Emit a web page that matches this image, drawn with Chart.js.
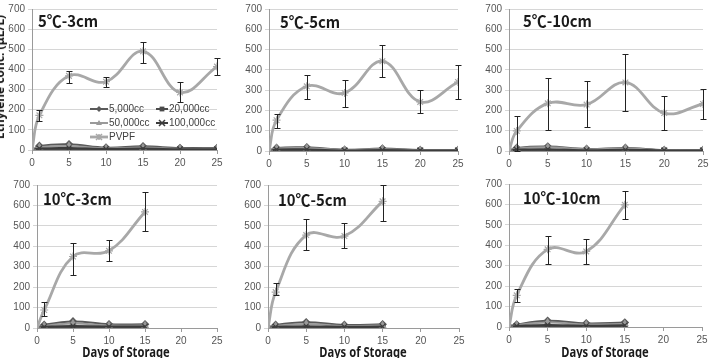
<!DOCTYPE html>
<html><head><meta charset="utf-8">
<script src="https://cdn.jsdelivr.net/npm/chart.js"></script>
<style>
html,body{margin:0;padding:0;background:#fff;width:712px;height:358px;overflow:hidden;position:relative;font-family:"Noto Sans CJK JP","Noto Sans",sans-serif}
canvas{position:absolute}
.ttl{position:absolute;font-weight:bold;font-size:16px;color:#1a1a1a;white-space:nowrap;line-height:1;transform-origin:0 0;transform:scaleX(0.93)}
.xt{position:absolute;font-family:"Noto Sans",sans-serif;font-weight:bold;font-size:14px;color:#1a1a1a;white-space:nowrap;line-height:1;transform:translateX(-50%) scaleX(0.8)}
.yt{position:absolute;font-family:"Noto Sans",sans-serif;font-weight:bold;font-size:12px;color:#1a1a1a;white-space:nowrap;line-height:1;transform:translate(-50%,-50%) rotate(-90deg)}
</style>
</head><body>
<canvas id="p1" width="230" height="175" style="left:0;top:0"></canvas>
<canvas id="p2" width="240" height="175" style="left:230px;top:0"></canvas>
<canvas id="p3" width="242" height="175" style="left:470px;top:0"></canvas>
<canvas id="p4" width="230" height="183" style="left:0;top:175px"></canvas>
<canvas id="p5" width="240" height="183" style="left:230px;top:175px"></canvas>
<canvas id="p6" width="242" height="183" style="left:470px;top:175px"></canvas>
<div class="ttl" style="left:38px;top:12px">5℃-3cm</div>
<div class="ttl" style="left:280px;top:13px">5℃-5cm</div>
<div class="ttl" style="left:523px;top:12px">5℃-10cm</div>
<div class="ttl" style="left:43px;top:190px">10℃-3cm</div>
<div class="ttl" style="left:278px;top:191px">10℃-5cm</div>
<div class="ttl" style="left:523px;top:189px">10℃-10cm</div>
<div class="xt" style="left:126px;top:345px">Days of Storage</div>
<div class="xt" style="left:363px;top:345px">Days of Storage</div>
<div class="xt" style="left:605px;top:345px">Days of Storage</div>
<div class="yt" style="left:0px;top:77px">Ethylene conc. (μL/L)</div>
<script>
// ---- data ----
const seriesNames = ['5,000cc', '20,000cc', '50,000cc', '100,000cc', 'PVPF'];
const daysLong = [0, 1, 5, 10, 15, 20, 25];
const daysShort = [0, 1, 5, 10, 15];
const xTickValues = [0, 5, 10, 15, 20, 25];
const yTickValues = [0, 100, 200, 300, 400, 500, 600, 700];

// 5℃-3cm
const c5cm3_5k   = [0, 20, 28, 12, 18, 10, 10];
const c5cm3_20k  = [0, 4, 4, 2, 3, 2, 2];
const c5cm3_50k  = [0, 14, 20, 8, 12, 6, 6];
const c5cm3_100k = [0, 8, 10, 5, 7, 4, 4];
const c5cm3_pvpf = [0, 172, 368, 339, 490, 286, 414];
const c5cm3_low  = [null, 145, 335, 314, 430, 237, 373];
const c5cm3_high = [null, 200, 393, 360, 537, 339, 455];

// 5℃-5cm
const c5cm5_5k   = [0, 15, 18, 6, 12, 5, 5];
const c5cm5_20k  = [0, 3, 3, 2, 2, 2, 2];
const c5cm5_50k  = [0, 12, 14, 5, 9, 4, 4];
const c5cm5_100k = [0, 7, 8, 3, 5, 3, 3];
const c5cm5_pvpf = [0, 152, 319, 286, 443, 242, 340];
const c5cm5_low  = [null, 111, 255, 218, 365, 185, 255];
const c5cm5_high = [null, 182, 373, 352, 524, 300, 425];

// 5℃-10cm
const c5cm10_5k   = [0, 15, 22, 10, 15, 5, 5];
const c5cm10_20k  = [0, 3, 3, 2, 2, 2, 2];
const c5cm10_50k  = [0, 12, 18, 8, 12, 4, 4];
const c5cm10_100k = [0, 7, 9, 4, 6, 3, 3];
const c5cm10_pvpf = [0, 99, 235, 229, 338, 187, 232];
const c5cm10_low  = [null, 0, 102, 118, 196, 102, 156];
const c5cm10_high = [null, 172, 362, 346, 479, 273, 305];

// 10℃-3cm
const c10cm3_5k   = [0, 15, 32, 18, 18];
const c10cm3_20k  = [0, 3, 4, 3, 3];
const c10cm3_50k  = [0, 10, 22, 12, 12];
const c10cm3_100k = [0, 6, 10, 7, 7];
const c10cm3_pvpf = [0, 88, 350, 378, 568];
const c10cm3_low  = [null, 60, 258, 328, 475];
const c10cm3_high = [null, 125, 415, 432, 665];

// 10℃-5cm
const c10cm5_5k   = [0, 15, 28, 15, 18];
const c10cm5_20k  = [0, 3, 4, 3, 3];
const c10cm5_50k  = [0, 10, 20, 10, 12];
const c10cm5_100k = [0, 6, 9, 6, 7];
const c10cm5_pvpf = [0, 176, 455, 450, 620];
const c10cm5_low  = [null, 160, 383, 390, 524];
const c10cm5_high = [null, 220, 532, 516, 700];

// 10℃-10cm
const c10cm10_5k   = [0, 12, 30, 18, 22];
const c10cm10_20k  = [0, 3, 4, 3, 3];
const c10cm10_50k  = [0, 9, 22, 12, 15];
const c10cm10_100k = [0, 5, 10, 6, 8];
const c10cm10_pvpf = [0, 155, 380, 370, 598];
const c10cm10_low  = [null, 122, 310, 310, 529];
const c10cm10_high = [null, 187, 445, 432, 668];

// ---- styles ----
const seriesColors = ['#5a5a5a', '#4a4a4a', '#9a9a9a', '#3c3c3c', '#a8a8a8'];
const seriesMarkers = ['rectRot', 'rect', 'triangle', 'crossRot', 'star'];
const seriesWidths = [2, 2, 2, 2, 2.8];

const errorBarPlugin = {
  id: 'errbars',
  afterDatasetsDraw(chart) {
    const ctx = chart.ctx, xs = chart.scales.x, ys = chart.scales.y;
    chart.data.datasets.forEach(ds => {
      if (!ds.errLow) return;
      ctx.save();
      ctx.strokeStyle = '#222';
      ctx.lineWidth = 1;
      ds.data.forEach((p, i) => {
        const lo = ds.errLow[i], hi = ds.errHigh[i];
        if (lo == null) return;
        const x = Math.round(xs.getPixelForValue(p.x)) + 0.5;
        const y1 = Math.round(ys.getPixelForValue(lo)) + 0.5;
        const y2 = Math.round(ys.getPixelForValue(hi)) + 0.5;
        ctx.beginPath();
        ctx.moveTo(x, y1); ctx.lineTo(x, y2);
        ctx.moveTo(x - 3, y1); ctx.lineTo(x + 3, y1);
        ctx.moveTo(x - 3, y2); ctx.lineTo(x + 3, y2);
        ctx.stroke();
      });
      ctx.restore();
    });
  }
};

function drawMarker(ctx, style, x, y, r, color) {
  ctx.save();
  ctx.fillStyle = color; ctx.strokeStyle = color; ctx.lineWidth = 1.5;
  ctx.beginPath();
  if (style === 'rectRot') {
    ctx.moveTo(x, y - r); ctx.lineTo(x + r, y); ctx.lineTo(x, y + r); ctx.lineTo(x - r, y); ctx.closePath(); ctx.fill();
  } else if (style === 'rect') {
    ctx.rect(x - r * 0.8, y - r * 0.8, r * 1.6, r * 1.6); ctx.fill();
  } else if (style === 'triangle') {
    ctx.moveTo(x, y - r); ctx.lineTo(x + r, y + r * 0.7); ctx.lineTo(x - r, y + r * 0.7); ctx.closePath(); ctx.fill();
  } else if (style === 'crossRot') {
    ctx.moveTo(x - r, y - r); ctx.lineTo(x + r, y + r); ctx.moveTo(x + r, y - r); ctx.lineTo(x - r, y + r); ctx.stroke();
  } else {
    ctx.moveTo(x - r, y - r); ctx.lineTo(x + r, y + r); ctx.moveTo(x + r, y - r); ctx.lineTo(x - r, y + r);
    ctx.moveTo(x, y - r); ctx.lineTo(x, y + r); ctx.stroke();
  }
  ctx.restore();
}

const legendPlugin = {
  id: 'inlegend',
  afterDraw(chart) {
    if (!chart.options.plugins.inlegend || !chart.options.plugins.inlegend.show) return;
    const ctx = chart.ctx;
    const spots = [[90, 109], [156, 109], [90, 123], [156, 123], [90, 137]];
    const sampleW = [18, 12, 18, 12, 18];
    ctx.save();
    ctx.font = '10px "Liberation Sans", Arial, sans-serif';
    ctx.textBaseline = 'middle';
    chart.data.datasets.forEach((ds, i) => {
      const [x, y] = spots[i];
      const w = sampleW[i];
      ctx.strokeStyle = ds.borderColor;
      ctx.lineWidth = ds.borderWidth;
      ctx.beginPath(); ctx.moveTo(x, y); ctx.lineTo(x + w, y); ctx.stroke();
      drawMarker(ctx, ds.pointStyle, x + w / 2, y, 3, ds.borderColor);
      ctx.fillStyle = '#404040';
      ctx.fillText(ds.label, x + w + 1, y);
    });
    ctx.restore();
  }
};

function pts(days, vals) { return days.map((d, i) => ({ x: d, y: vals[i] })); }

function makePanel(id, days, lows, pvpf, errLow, errHigh, fit, showLegend) {
  const vals = lows.concat([pvpf]);
  const datasets = vals.map((v, i) => ({
    label: seriesNames[i],
    data: pts(days, v),
    borderColor: seriesColors[i],
    backgroundColor: seriesColors[i],
    borderWidth: seriesWidths[i],
    pointStyle: seriesMarkers[i],
    pointRadius: i === 4 ? 4 : 3.5,
    pointBorderWidth: 1.2,
    tension: 0.4,
    errLow: i === 4 ? errLow : null,
    errHigh: i === 4 ? errHigh : null,
    order: 4 - i
  }));
  return new Chart(document.getElementById(id), {
    type: 'line',
    data: { datasets },
    options: {
      responsive: false, animation: false, devicePixelRatio: 1,
      layout: { padding: { left: 0, top: fit.top, right: fit.right, bottom: 0 } },
      plugins: { legend: { display: false }, tooltip: { enabled: false }, inlegend: { show: showLegend } },
      scales: {
        x: {
          type: 'linear', min: 0, max: 25,
          afterBuildTicks: s => { s.ticks = xTickValues.map(v => ({ value: v })); },
          afterFit: s => { s.height = fit.bottom; },
          grid: { drawOnChartArea: false, tickLength: 4, color: '#9a9a9a' },
          border: { color: '#9a9a9a', width: 1 },
          ticks: { font: { size: 10, family: '"Liberation Sans", Arial, sans-serif' }, color: '#555', padding: 3, maxRotation: 0 }
        },
        y: {
          min: 0, max: 700,
          afterBuildTicks: s => { s.ticks = yTickValues.map(v => ({ value: v })); },
          afterFit: s => { s.width = fit.left; },
          grid: { color: '#d6d6d6', tickLength: 4 },
          border: { color: '#9a9a9a', width: 1 },
          ticks: { font: { size: 10, family: '"Liberation Sans", Arial, sans-serif' }, color: '#555', padding: 3 }
        }
      }
    },
    plugins: [errorBarPlugin, legendPlugin]
  });
}

makePanel('p1', daysLong, [c5cm3_5k, c5cm3_20k, c5cm3_50k, c5cm3_100k], c5cm3_pvpf, c5cm3_low, c5cm3_high,
  { left: 32, top: 7, right: 13, bottom: 25 }, true);
makePanel('p2', daysLong, [c5cm5_5k, c5cm5_20k, c5cm5_50k, c5cm5_100k], c5cm5_pvpf, c5cm5_low, c5cm5_high,
  { left: 39, top: 8, right: 12, bottom: 24 }, false);
makePanel('p3', daysLong, [c5cm10_5k, c5cm10_20k, c5cm10_50k, c5cm10_100k], c5cm10_pvpf, c5cm10_low, c5cm10_high,
  { left: 39, top: 7, right: 9, bottom: 24 }, false);
makePanel('p4', daysShort, [c10cm3_5k, c10cm3_20k, c10cm3_50k, c10cm3_100k], c10cm3_pvpf, c10cm3_low, c10cm3_high,
  { left: 37, top: 10, right: 13, bottom: 30 }, false);
makePanel('p5', daysShort, [c10cm5_5k, c10cm5_20k, c10cm5_50k, c10cm5_100k], c10cm5_pvpf, c10cm5_low, c10cm5_high,
  { left: 38, top: 10, right: 11, bottom: 30 }, false);
makePanel('p6', daysShort, [c10cm10_5k, c10cm10_20k, c10cm10_50k, c10cm10_100k], c10cm10_pvpf, c10cm10_low, c10cm10_high,
  { left: 39, top: 8, right: 10, bottom: 31 }, false);
</script>
</body></html>
